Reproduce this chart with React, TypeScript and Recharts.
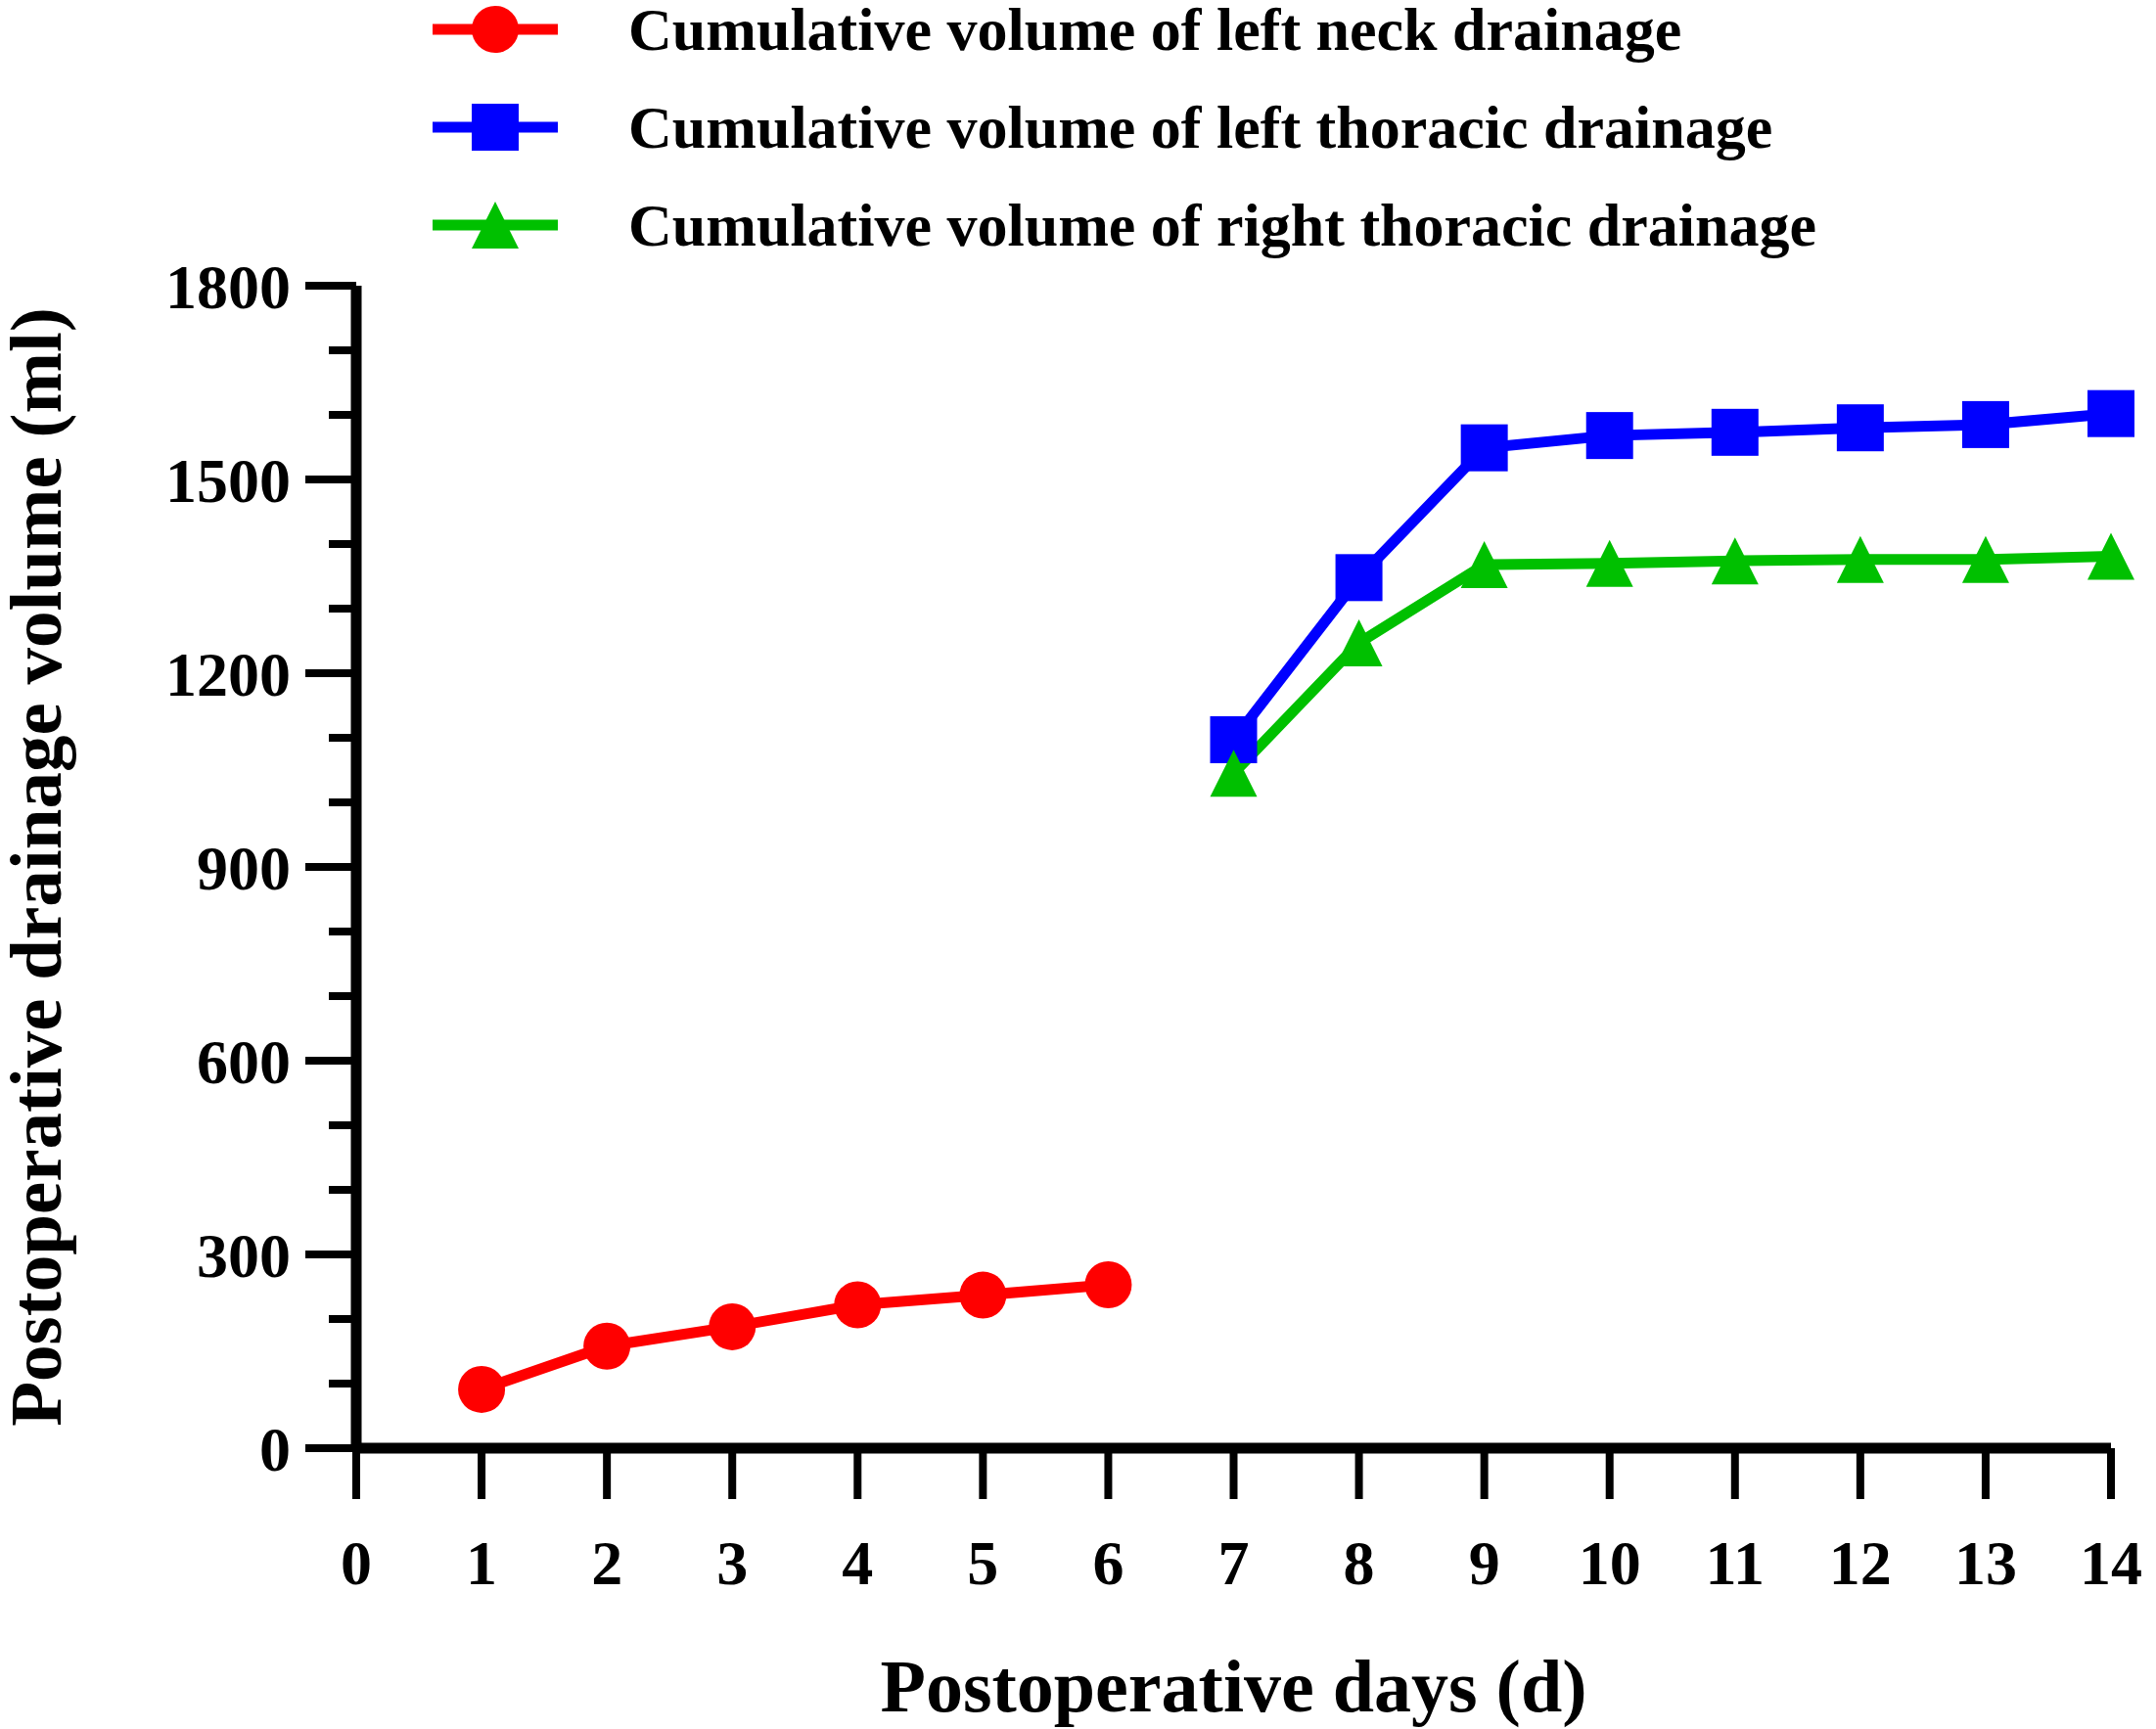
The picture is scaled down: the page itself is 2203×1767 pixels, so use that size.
import React from "react";
import { LineChart, Line, XAxis, YAxis, Legend, Label } from "recharts";

document.body.style.margin = "0";

const DAYS = [1, 2, 3, 4, 5, 6, 7, 8, 9, 10, 11, 12, 13, 14];
const NECK_LEFT = [91, 158, 188, 222, 237, 253, null, null, null, null, null, null, null, null];
const THORACIC_LEFT = [null, null, null, null, null, null, 1097, 1348, 1549, 1568, 1573, 1580, 1585, 1602];
const THORACIC_RIGHT = [null, null, null, null, null, null, 1045, 1247, 1368, 1370, 1374, 1376, 1376, 1381];

const X_TICKS = [0, 1, 2, 3, 4, 5, 6, 7, 8, 9, 10, 11, 12, 13, 14];
const Y_TICKS = [0, 100, 200, 300, 400, 500, 600, 700, 800, 900, 1000, 1100, 1200, 1300, 1400, 1500, 1600, 1700, 1800];

const SERIES = [
  { key: "neck", name: "Cumulative volume of left neck drainage", color: "#FF0000", shape: "circle" },
  { key: "leftThoracic", name: "Cumulative volume of left thoracic drainage", color: "#0000FF", shape: "square" },
  { key: "rightThoracic", name: "Cumulative volume of right thoracic drainage", color: "#00C000", shape: "triangle" },
];

const data = DAYS.map((day, i) => ({
  day,
  neck: NECK_LEFT[i],
  leftThoracic: THORACIC_LEFT[i],
  rightThoracic: THORACIC_RIGHT[i],
}));

const FONT = "'Liberation Serif', 'Times New Roman', serif";
const MARK = 48;

function Marker({ shape, color, cx, cy }: { shape: string; color: string; cx: number; cy: number }) {
  const h = MARK / 2;
  if (shape === "circle") return <circle cx={cx} cy={cy} r={h} fill={color} />;
  if (shape === "square") return <rect x={cx - h} y={cy - h} width={MARK} height={MARK} fill={color} />;
  return <polygon points={`${cx},${cy - h} ${cx + h},${cy + h} ${cx - h},${cy + h}`} fill={color} />;
}

const renderDot = (shape: string, color: string) => (props: any) => {
  const { cx, cy, index, value } = props;
  if (cx == null || cy == null || value == null) return <g key={`${shape}-${index}`} />;
  return (
    <g key={`${shape}-${index}`}>
      <Marker shape={shape} color={color} cx={cx} cy={cy} />
    </g>
  );
};

function YTick(props: any) {
  const { x, y, payload } = props;
  const v = payload.value;
  const major = v % 300 === 0;
  const len = major ? 52 : 28;
  return (
    <g>
      <line x1={x} x2={x - len} y1={y} y2={y} stroke="#000" strokeWidth={8} />
      {major && (
        <text
          x={x - len - 15}
          y={y}
          dy="0.355em"
          textAnchor="end"
          fontFamily={FONT}
          fontWeight="bold"
          fontSize={64}
          fill="#000"
        >
          {v}
        </text>
      )}
    </g>
  );
}

function LegendBox(props: any) {
  const items = props.payload ?? [];
  return (
    <div style={{ fontFamily: FONT, fontWeight: "bold", fontSize: 62, color: "#000" }}>
      {items.map((item: any) => {
        const s = SERIES.find((d) => d.key === item.dataKey) ?? SERIES[0];
        return (
          <div key={s.key} style={{ display: "flex", alignItems: "center", height: 100, lineHeight: "100px" }}>
            <svg width={128} height={100} style={{ marginLeft: 442, flex: "none" }}>
              <line x1={0} x2={128} y1={50} y2={50} stroke={s.color} strokeWidth={11} />
              <Marker shape={s.shape} color={s.color} cx={64} cy={50} />
            </svg>
            <span style={{ marginLeft: 72, whiteSpace: "nowrap" }}>{item.value}</span>
          </div>
        );
      })}
    </div>
  );
}

export default function App() {
  return (
    <LineChart
      width={2203}
      height={1767}
      data={data}
      margin={{ top: 292, right: 46, bottom: 0, left: 0 }}
    >
      <XAxis
        dataKey="day"
        type="number"
        domain={[0, 14]}
        ticks={X_TICKS}
        interval={0}
        height={287}
        axisLine={{ stroke: "#000", strokeWidth: 11 }}
        tickLine={{ stroke: "#000", strokeWidth: 8 }}
        tickSize={52}
        tickMargin={42}
        tick={{ fontFamily: FONT, fontWeight: "bold", fontSize: 64, fill: "#000" }}
      >
        <Label
          value="Postoperative days (d)"
          position="insideBottom"
          offset={18}
          style={{ fontFamily: FONT, fontWeight: "bold", fontSize: 76, fill: "#000" }}
        />
      </XAxis>
      <YAxis
        type="number"
        domain={[0, 1800]}
        ticks={Y_TICKS}
        interval={0}
        width={364}
        axisLine={{ stroke: "#000", strokeWidth: 11 }}
        tickLine={false}
        tickSize={0}
        tickMargin={0}
        tick={<YTick />}
      >
        <Label
          value="Postoperative drainage volume (ml)"
          position="insideLeft"
          angle={-90}
          offset={35}
          style={{ fontFamily: FONT, fontWeight: "bold", fontSize: 75, fill: "#000", textAnchor: "middle" }}
        />
      </YAxis>
      <Legend
        layout="vertical"
        align="center"
        verticalAlign="middle"
        wrapperStyle={{ top: -20, left: 0, width: 2203 }}
        content={<LegendBox />}
      />
      {SERIES.map((s) => (
        <Line
          key={s.key}
          dataKey={s.key}
          name={s.name}
          type="linear"
          stroke={s.color}
          strokeWidth={11}
          dot={renderDot(s.shape, s.color)}
          activeDot={false}
          isAnimationActive={false}
        />
      ))}
    </LineChart>
  );
}
